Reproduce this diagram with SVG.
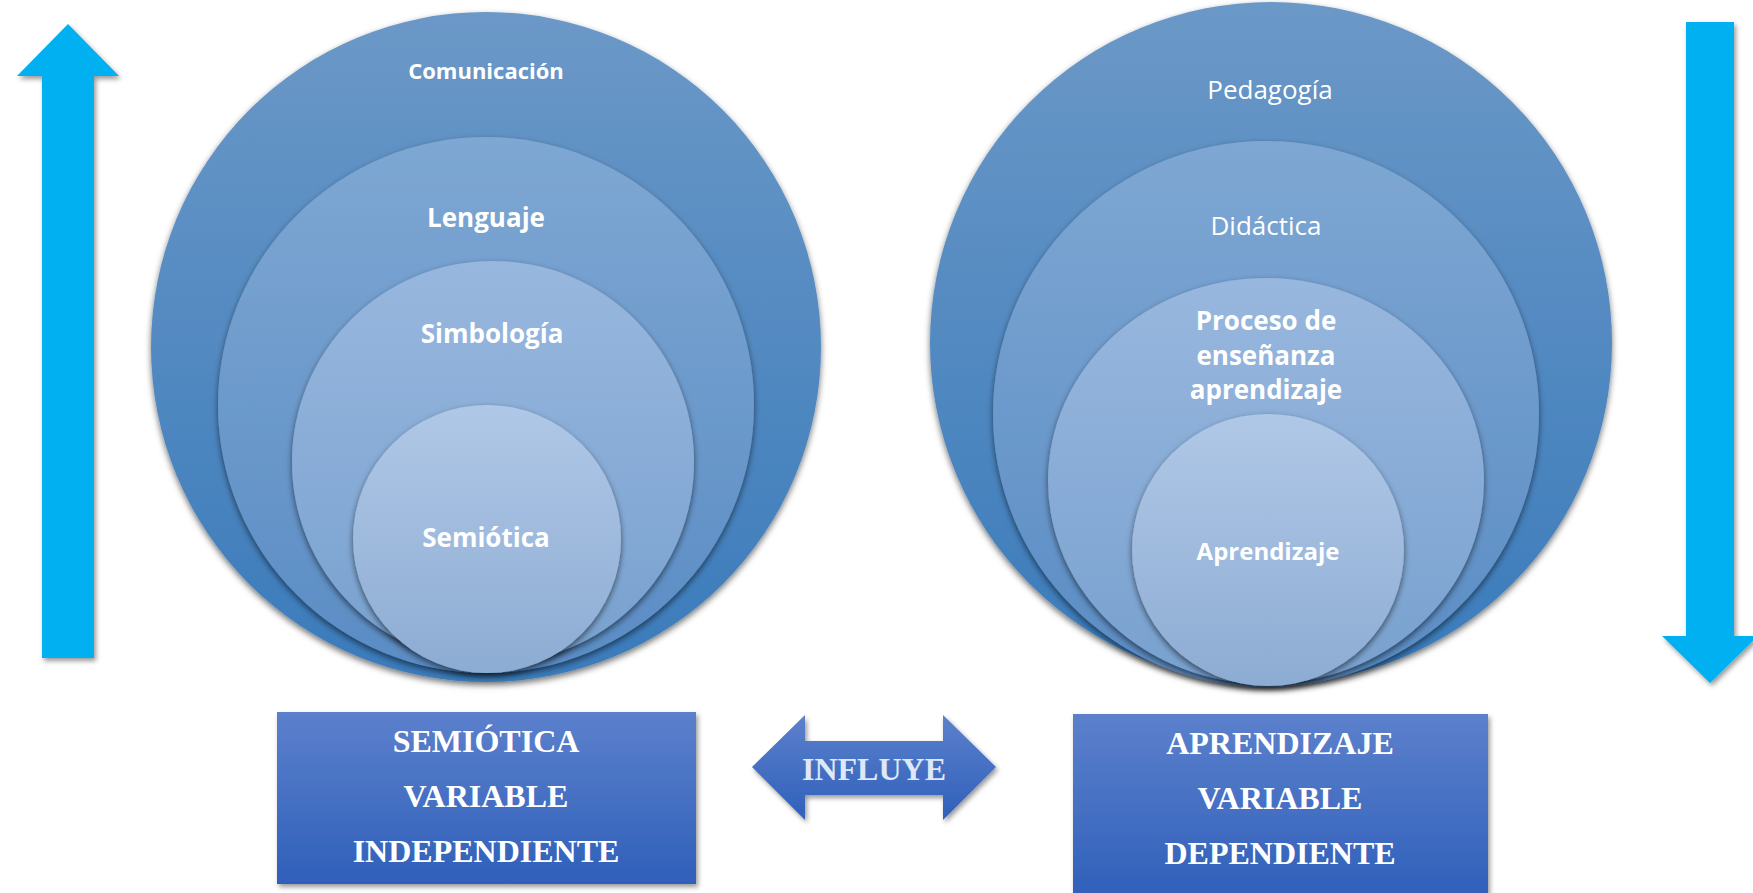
<svg xmlns="http://www.w3.org/2000/svg" width="1753" height="893" viewBox="0 0 1753 893">
<defs>
<linearGradient id="g1" x1="0" y1="0" x2="0" y2="1"><stop offset="0" stop-color="#6b98c7"/><stop offset="1" stop-color="#3a7bbb"/></linearGradient>
<linearGradient id="g2" x1="0" y1="0" x2="0" y2="1"><stop offset="0" stop-color="#7ea7d3"/><stop offset="1" stop-color="#5a8cc4"/></linearGradient>
<linearGradient id="g3" x1="0" y1="0" x2="0" y2="1"><stop offset="0" stop-color="#98b7de"/><stop offset="1" stop-color="#78a1cf"/></linearGradient>
<linearGradient id="g4" x1="0" y1="0" x2="0" y2="1"><stop offset="0" stop-color="#b0c8e7"/><stop offset="1" stop-color="#8dacd3"/></linearGradient>
<linearGradient id="gb" x1="0" y1="0" x2="0" y2="1"><stop offset="0" stop-color="#5c80cc"/><stop offset="1" stop-color="#2f60ba"/></linearGradient>
<filter id="sh" x="-10%" y="-10%" width="120%" height="125%"><feDropShadow dx="0" dy="3" stdDeviation="3" flood-color="#000" flood-opacity="0.55"/></filter>
<filter id="sa" x="-20%" y="-10%" width="140%" height="125%"><feDropShadow dx="2" dy="3" stdDeviation="2.5" flood-color="#000" flood-opacity="0.4"/></filter>
<style>
.t{font-family:"Open Sans","Liberation Sans",sans-serif;fill:#fff;text-anchor:middle}
.b{font-weight:bold}
.s{font-family:"Liberation Serif","Times New Roman",serif;font-weight:bold;font-size:32px;fill:#fff;text-anchor:middle}
.cy{fill:#00b0f0;filter:url(#sa)}
</style>
</defs>
<g id="arrow-up"><polygon class="cy" points="68,24 119,76 94,76 94,658 42,658 42,76 17,76"/></g>
<g id="arrow-down"><polygon class="cy" points="1686,22 1734,22 1734,636 1758,636 1710,683 1662,636 1686,636"/></g>
<g id="comunicacion"><circle cx="486" cy="347" r="335" fill="url(#g1)" filter="url(#sh)"/><text class="t b" x="486" y="79" font-size="22">Comunicación</text></g>
<g id="lenguaje"><circle cx="486" cy="405" r="268" fill="url(#g2)" filter="url(#sh)"/><text class="t b" x="486" y="227" font-size="26">Lenguaje</text></g>
<g id="simbologia"><circle cx="493" cy="462" r="201" fill="url(#g3)" filter="url(#sh)"/><text class="t b" x="492" y="343" font-size="26">Simbología</text></g>
<g id="semiotica"><circle cx="487" cy="539" r="134" fill="url(#g4)" filter="url(#sh)"/><text class="t b" x="486" y="547" font-size="26">Semiótica</text></g>
<g id="pedagogia"><circle cx="1271" cy="343" r="341" fill="url(#g1)" filter="url(#sh)"/><text class="t" x="1270" y="99" font-size="26">Pedagogía</text></g>
<g id="didactica"><circle cx="1266" cy="414" r="273" fill="url(#g2)" filter="url(#sh)"/><text class="t" x="1266" y="235" font-size="26">Didáctica</text></g>
<g id="proceso"><ellipse cx="1266" cy="481" rx="218" ry="203" fill="url(#g3)" filter="url(#sh)"/><text class="t b" x="1266" font-size="26"><tspan x="1266" y="330">Proceso de</tspan><tspan x="1266" y="365">enseñanza</tspan><tspan x="1266" y="399">aprendizaje</tspan></text></g>
<g id="aprendizaje"><circle cx="1268" cy="550" r="136" fill="url(#g4)" filter="url(#sh)"/><text class="t b" x="1268" y="560" font-size="24">Aprendizaje</text></g>
<g id="box-left"><rect x="277" y="712" width="419" height="172" fill="url(#gb)" filter="url(#sa)"/><text class="s" x="486" y="752">SEMIÓTICA</text><text class="s" x="486" y="807">VARIABLE</text><text class="s" x="486" y="862">INDEPENDIENTE</text></g>
<g id="box-right"><rect x="1073" y="714" width="415" height="185" fill="url(#gb)" filter="url(#sa)"/><text class="s" x="1280" y="754">APRENDIZAJE</text><text class="s" x="1280" y="809">VARIABLE</text><text class="s" x="1280" y="864">DEPENDIENTE</text></g>
<g id="connectors"><polygon points="752,767 805,715 805,741 943,741 943,715 996,767 943,820 943,795 805,795 805,820" fill="url(#gb)" filter="url(#sa)"/><text class="s" x="874" y="780" font-size="31" style="fill:#dfe8f6">INFLUYE</text></g>
</svg>
